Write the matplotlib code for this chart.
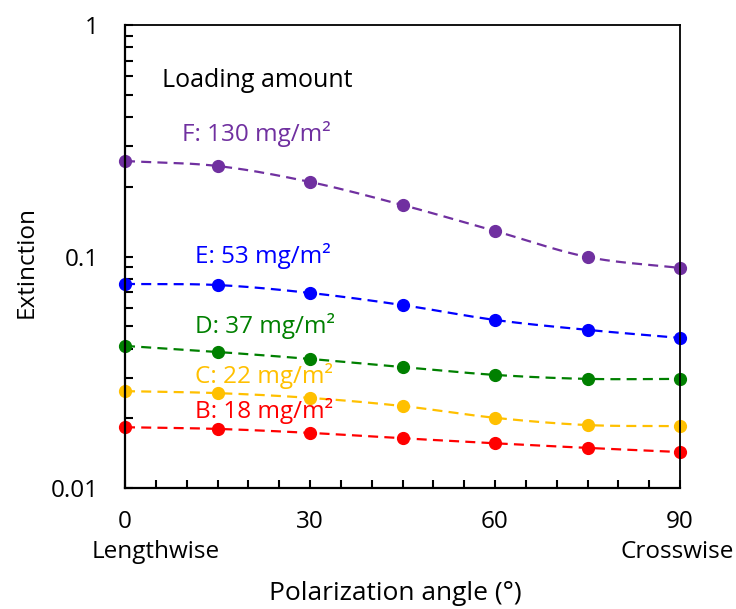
import numpy as np
import matplotlib
matplotlib.use("Agg")
import matplotlib.pyplot as plt

plt.rcParams['font.family'] = ['Open Sans', 'DejaVu Sans']

angles = [0, 15, 30, 45, 60, 75, 90]
F = [0.2585, 0.2460, 0.2099, 0.1669, 0.1289, 0.0995, 0.0892]
E = [0.0761, 0.0753, 0.0696, 0.0617, 0.0532, 0.0482, 0.0445]
D = [0.0411, 0.0387, 0.0361, 0.0333, 0.0308, 0.0296, 0.0296]
C = [0.0262, 0.0257, 0.0245, 0.0226, 0.0201, 0.0187, 0.0185]
B = [0.0183, 0.0180, 0.0173, 0.0164, 0.0156, 0.0149, 0.0143]

series = [
    ("F: 130 mg/m²", F, "#7030A0"),
    ("E: 53 mg/m²", E, "#0000FF"),
    ("D: 37 mg/m²", D, "#008000"),
    ("C: 22 mg/m²", C, "#FFC000"),
    ("B: 18 mg/m²", B, "#FF0000"),
]
# label anchor (angle, extinction at text baseline)
label_pos = [(9.2, 0.3155), (11.3, 0.0937), (11.3, 0.0467), (11.3, 0.0284), (11.3, 0.0201)]


def smooth(x, y, n=30):
    x = np.asarray(x, float)
    ly = np.log10(np.asarray(y, float))
    px = np.concatenate([[2 * x[0] - x[1]], x, [2 * x[-1] - x[-2]]])
    py = np.concatenate([[2 * ly[0] - ly[1]], ly, [2 * ly[-1] - ly[-2]]])
    xs, ys = [], []
    for i in range(1, len(px) - 2):
        t = np.linspace(0, 1, n, endpoint=False)
        for P, out in ((px, xs), (py, ys)):
            p0, p1, p2, p3 = P[i - 1], P[i], P[i + 1], P[i + 2]
            out.append(0.5 * ((2 * p1) + (-p0 + p2) * t +
                              (2 * p0 - 5 * p1 + 4 * p2 - p3) * t ** 2 +
                              (-p0 + 3 * p1 - 3 * p2 + p3) * t ** 3))
    xs = np.concatenate(xs + [[x[-1]]])
    ys = np.concatenate(ys + [[ly[-1]]])
    return xs, 10 ** ys


fig = plt.figure(figsize=(7.36, 6.09), dpi=100)
ax = fig.add_axes([125 / 736, 1 - 488 / 609, (680 - 125) / 736, (488 - 25) / 609])

for (lab, vals, col), (lx, ly) in zip(series, label_pos):
    sx, sy = smooth(angles, vals)
    ax.plot(sx, sy, color=col, lw=1.6, dashes=(4.5, 2.8), zorder=3)
    ax.plot(angles, vals, 'o', color=col, ms=8.5, zorder=4, clip_on=False)
    ax.text(lx, ly, lab, color=col, fontsize=17.5, ha='left', va='baseline')

ax.set_yscale('log')
ax.set_ylim(0.01, 1)
ax.set_xlim(0, 90)
ax.set_xticks([0, 30, 60, 90])
ax.set_xticks(np.arange(0, 91, 5), minor=True)
ax.set_yticks([0.01, 0.1, 1])
ax.set_yticklabels(["0.01", "0.1", "1"])
ax.tick_params(which='both', direction='in', length=6, width=1.5, labelsize=17.5)
ax.tick_params(axis='x', pad=16)
ax.tick_params(axis='y', pad=19)
ax.tick_params(which='both', top=False, right=False)
for s in ax.spines.values():
    s.set_linewidth(1.6)
    s.set_zorder(5)
for s in ('top', 'right'):
    ax.spines[s].set_linewidth(1.3)

fig.text(162 / 736, 1 - 87 / 609, "Loading amount", fontsize=18, ha='left', va='baseline')
fig.text(156 / 736, 1 - 552 / 609, "Lengthwise", fontsize=17.5, ha='center', va='center')
fig.text(677 / 736, 1 - 552 / 609, "Crosswise", fontsize=17.5, ha='center', va='center')
fig.text(395 / 736, 1 - 593 / 609, "Polarization angle (°)", fontsize=19, ha='center', va='center')
fig.text(27 / 736, 1 - 262 / 609, "Extinction", fontsize=17.5, ha='center', va='center', rotation=90)

fig.savefig("out.png", dpi=100)
